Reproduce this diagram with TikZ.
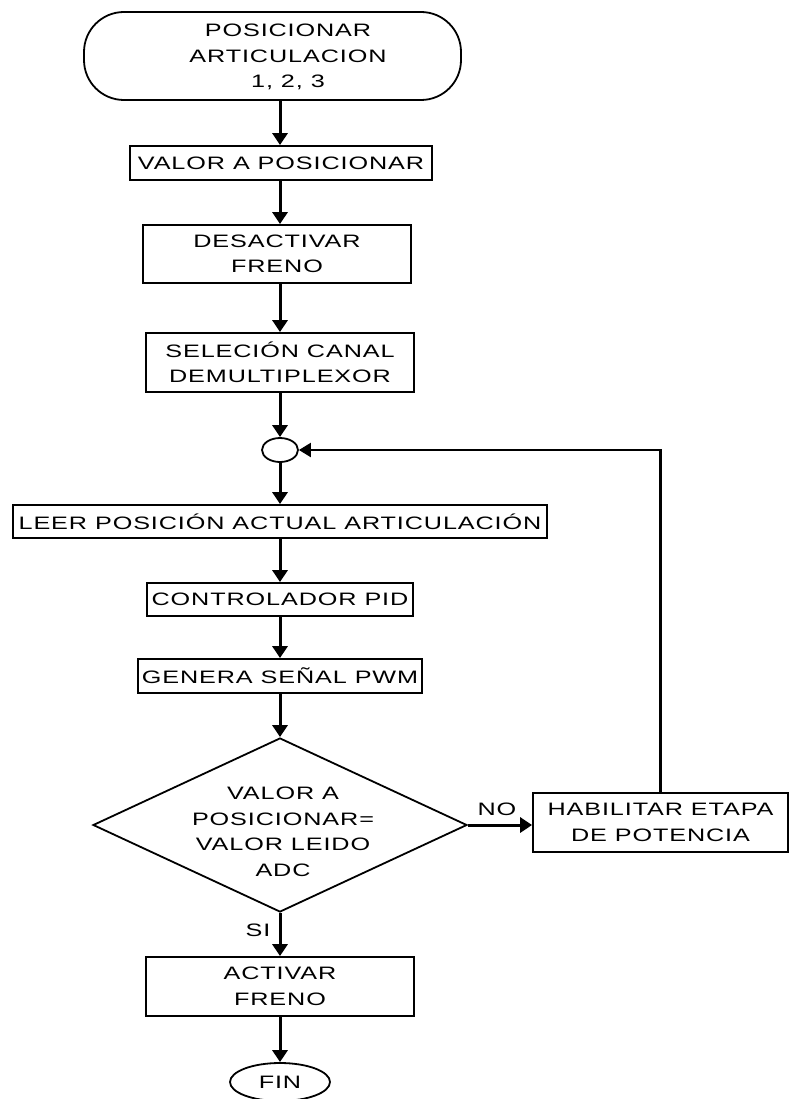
\documentclass[tikz,border=0pt]{standalone}
\usepackage{fontspec}
\setmainfont{Liberation Sans}[FakeStretch=1.4, LetterSpace=5]
\usetikzlibrary{arrows.meta,shapes.geometric}
\begin{document}
\begin{tikzpicture}[x=1pt,y=-1pt,
  every node/.style={font=\fontsize{18pt}{25.5pt}\selectfont, align=center, inner sep=0pt},
  stepbox/.style 2 args={draw, line width=1.8pt, rectangle, minimum width=#1, minimum height=#2},
  terminal/.style={draw, line width=1.8pt, rectangle, rounded corners=40pt, minimum width=377pt, minimum height=88pt},
  decision/.style={draw, line width=1.8pt, diamond, minimum width=374pt, minimum height=174pt},
  oval/.style 2 args={draw, line width=1.8pt, ellipse, minimum width=#1, minimum height=#2},
  flow/.style={line width=3pt, -{Triangle[length=12pt,width=15pt]}},
  back/.style={line width=2.2pt, -{Triangle[length=12pt,width=14pt]}},
  tag/.style={font=\fontsize{18pt}{20pt}\selectfont}
]
\useasboundingbox (0,0) rectangle (790,1099);

% start terminal and its text
\node[terminal] (start) at (272.5,56) {};
\node (starttext) at (288,57) {POSICIONAR\\ARTICULACION\\1, 2, 3};

% process boxes
\node[stepbox={302pt}{34pt}] (valor) at (281,163) {VALOR A POSICIONAR};
\node[stepbox={268pt}{58pt}] (desact) at (277,254) {DESACTIVAR\\FRENO};
\node[stepbox={268pt}{59pt}] (selec) at (280,362.5) {SELECIÓN CANAL\\DEMULTIPLEXOR};

% junction
\node[oval={36pt}{24pt}] (junc) at (280,450) {};

\node[stepbox={534pt}{33pt}] (leer) at (280,521.5) {LEER POSICIÓN ACTUAL ARTICULACIÓN};
\node[stepbox={266pt}{33pt}] (pid) at (280,599.5) {CONTROLADOR PID};
\node[stepbox={284pt}{34pt}] (pwm) at (280,676) {GENERA SEÑAL PWM};

% decision
\node[decision] (dec) at (280,825) {};
\node (dectext) at (283,832) {VALOR A\\POSICIONAR=\\VALOR LEIDO\\ADC};

\node[stepbox={255pt}{59pt}] (hab) at (660.5,822.5) {HABILITAR ETAPA\\DE POTENCIA};

\node[stepbox={268pt}{59pt}] (act) at (280,986.5) {ACTIVAR\\FRENO};
\node[oval={100pt}{38pt}] (fin) at (280,1082) {FIN};

% labels
\node[tag] (no) at (497,809) {NO};
\node[tag] (si) at (258,930) {SI};

% connectors (main spine kept on the junction's vertical axis)
\draw[flow] (start.south -| junc) -- (valor.north -| junc);
\draw[flow] (valor.south -| junc) -- (desact.north -| junc);
\draw[flow] (desact.south -| junc) -- (selec.north -| junc);
\draw[flow] (selec) -- (junc);
\draw[flow] (junc) -- (leer);
\draw[flow] (leer) -- (pid);
\draw[flow] (pid) -- (pwm);
\draw[flow] (pwm) -- (dec.north);
\draw[flow] (dec.east) -- (dec.east -| hab.west);
\draw[back] (hab.north) |- (junc.east);
\draw[flow] (dec.south) -- (act);
\draw[flow] (act) -- (fin);
\end{tikzpicture}
\end{document}
